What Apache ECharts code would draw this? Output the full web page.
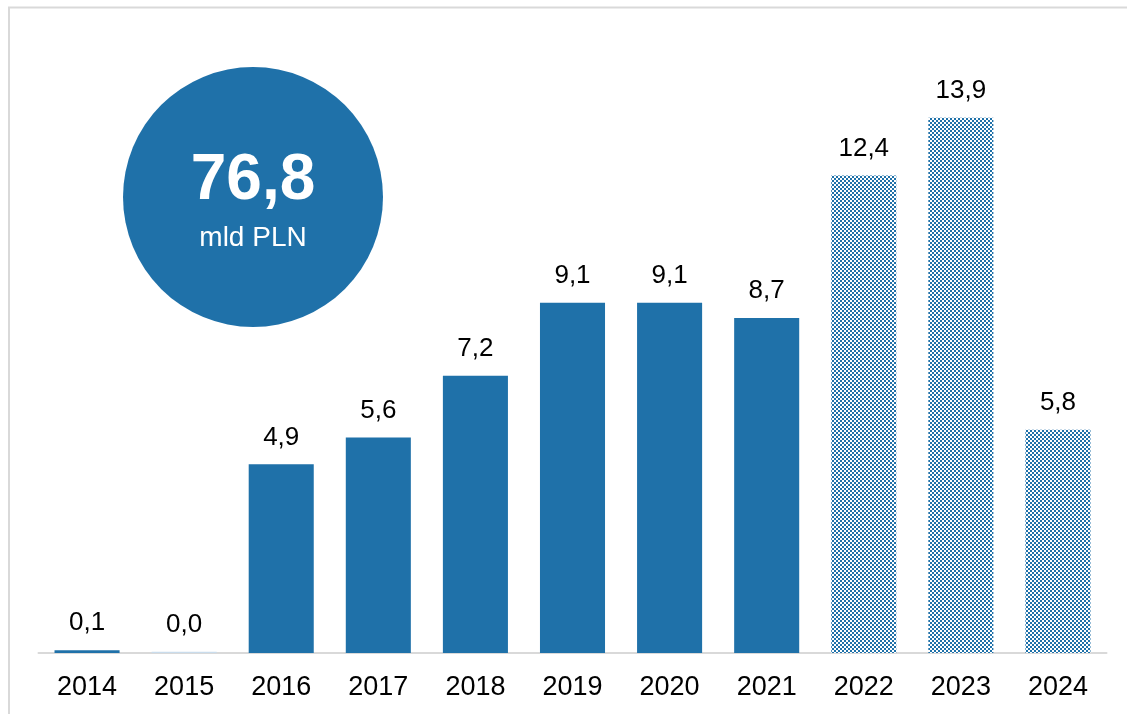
<!DOCTYPE html>
<html>
<head>
<meta charset="utf-8">
<script src="https://cdn.jsdelivr.net/npm/echarts@6/dist/echarts.min.js"></script>
<style>
  html, body { margin: 0; padding: 0; background: #fff; }
  #chart { width: 1127px; height: 714px; }
</style>
</head>
<body>
<div id="chart"></div>
<script>
// Data
const years = ['2014', '2015', '2016', '2017', '2018', '2019', '2020', '2021', '2022', '2023', '2024'];
const values = [0.07, 0.03, 4.9, 5.6, 7.2, 9.1, 9.1, 8.7, 12.4, 13.9, 5.8];
const projected = [false, false, false, false, false, false, false, false, true, true, true];
const totalUnit = 'mld PLN';

const BLUE = '#1f71a9';
const fmt = v => v.toFixed(1).replace('.', ',');

// checker pattern for projected bars
const pc = document.createElement('canvas');
pc.width = 4; pc.height = 4;
const pctx = pc.getContext('2d');
pctx.fillStyle = '#ffffff';
pctx.fillRect(0, 0, 4, 4);
pctx.fillStyle = BLUE;
pctx.fillRect(0, 0, 2, 2);
pctx.fillRect(2, 2, 2, 2);

const total = values.reduce((a, b) => a + b, 0);

const seriesData = values.map((v, i) => ({
  value: v,
  itemStyle: {
    color: projected[i] ? { image: pc, repeat: 'repeat' } : (i === 1 ? '#c9dcec' : BLUE)
  }
}));

const chart = echarts.init(document.getElementById('chart'), null, { renderer: 'canvas' });
chart.setOption({
  animation: false,
  backgroundColor: '#ffffff',
  grid: { left: 38.5, right: 20.5, top: 37, bottom: 61, containLabel: false },
  xAxis: {
    type: 'category',
    data: years,
    axisLine: { show: true, lineStyle: { color: '#d9d9d9', width: 2 } },
    axisTick: { show: false },
    axisLabel: {
      color: '#000', fontSize: 27, fontFamily: 'Liberation Sans, Arial, sans-serif',
      margin: 21
    }
  },
  yAxis: {
    type: 'value', min: 0, max: 16, show: false,
    splitLine: { show: false }
  },
  series: [{
    type: 'bar',
    data: seriesData,
    barCategoryGap: '33%',
    label: {
      show: true, position: 'top', distance: 14,
      color: '#000', fontSize: 26, fontFamily: 'Liberation Sans, Arial, sans-serif',
      formatter: p => fmt(p.value)
    }
  }],
  graphic: [
    {
      type: 'rect', silent: true,
      shape: { x: 9, y: 7.5, width: 1300, height: 900 },
      style: { fill: 'none', stroke: '#d9d9d9', lineWidth: 2 }
    },
    {
      type: 'circle', silent: true,
      shape: { cx: 253, cy: 197, r: 130 },
      style: { fill: BLUE }
    },
    {
      type: 'text', silent: true,
      x: 253, y: 181,
      style: {
        text: fmt(total), fill: '#fff', fontSize: 64, fontWeight: 'bold',
        fontFamily: 'Liberation Sans, Arial, sans-serif',
        align: 'center', verticalAlign: 'middle'
      }
    },
    {
      type: 'text', silent: true,
      x: 253, y: 238,
      style: {
        text: totalUnit, fill: '#fff', fontSize: 28,
        fontFamily: 'Liberation Sans, Arial, sans-serif',
        align: 'center', verticalAlign: 'middle'
      }
    }
  ]
});
</script>
</body>
</html>
